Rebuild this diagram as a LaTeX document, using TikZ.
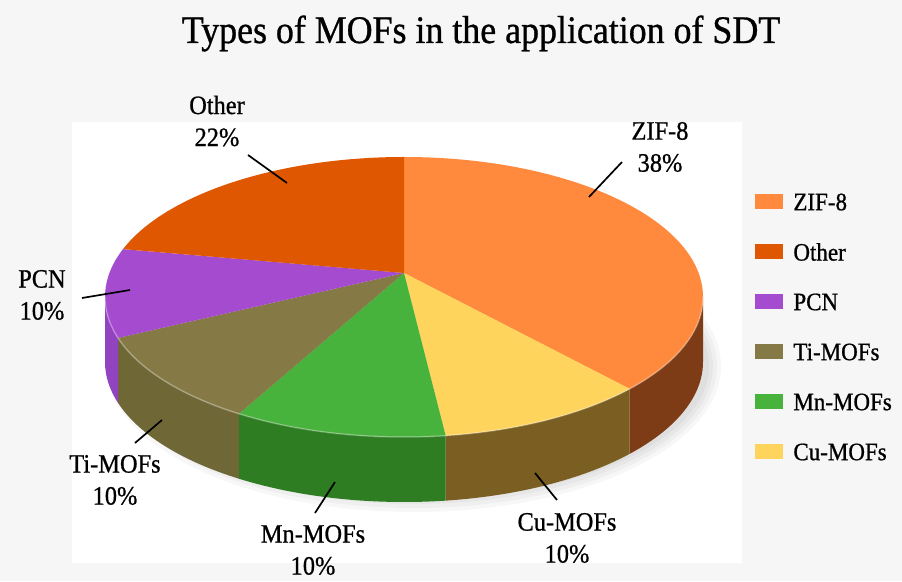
\documentclass[tikz,border=0pt]{standalone}
\usepackage{fontspec}
\setmainfont{Liberation Serif}[FakeStretch=0.92, FakeBold=0.8]
\usetikzlibrary{calc}

\definecolor{bggray}{HTML}{F6F6F6}
\definecolor{zifcol}{HTML}{FF8A3D}
\definecolor{zifside}{HTML}{7D3C15}
\definecolor{othcol}{HTML}{DF5700}
\definecolor{pcncol}{HTML}{A44BD0}
\definecolor{pcnside}{HTML}{9143C0}
\definecolor{ticol}{HTML}{857A45}
\definecolor{tiside}{HTML}{6F6736}
\definecolor{mncol}{HTML}{47B23C}
\definecolor{mnside}{HTML}{2F7D23}
\definecolor{cucol}{HTML}{FFD45C}
\definecolor{cuside}{HTML}{7A5E22}

\def\rx{299}
\def\ry{140}
\def\dep{65}

% top face of one slice: start angle, end angle, colour
\newcommand{\topslice}[3]{%
  \fill[#3] (apex) -- ($(ctr)+(#1:{\rx} and {\ry})$)
    arc[start angle=#1, end angle=#2, x radius=\rx, y radius=\ry] -- cycle;}
% front wall of one slice
\newcommand{\sideslice}[3]{%
  \fill[#3] ($(ctr)+(#1:{\rx} and {\ry})$)
    arc[start angle=#1, end angle=#2, x radius=\rx, y radius=\ry] -- ++(0,-\dep)
    arc[start angle=#2, end angle=#1, x radius=\rx, y radius=\ry] -- cycle;}

\tikzset{
  lbl/.style={align=center, inner sep=0pt, font=\fontsize{26.5}{32}\selectfont},
  legtxt/.style={inner sep=0pt, font=\fontsize{25}{30}\selectfont},
  legbox/.style={minimum width=28pt, minimum height=15pt, inner sep=0pt},
  leader/.style={line width=1.7pt, black},
}

\begin{document}
\begin{tikzpicture}[x=1pt,y=1pt]
                    \useasboundingbox (0,0) rectangle (902,581);
                    % Background and plot area
                    \fill[bggray] (0,0) rectangle (902,581);
                    \fill[white] (72,18) rectangle (742,459);

                    \coordinate (ctr) at (404,284);
                    \coordinate (apex) at (404,308);

                    % Title
                    \node (title) at (481,538) [anchor=base, inner sep=0pt] {\fontsize{39}{42}\selectfont Types of MOFs in the application of SDT};

                    % Soft shadow under the pie
                    \foreach \s in {0,4,8,12}
                      \fill[black, opacity=0.03] ($(ctr)+(10,-\dep-4)$) ellipse [x radius={\rx+8-\s}, y radius={\ry+6-\s}];

                    % Drawing the front walls
                    \sideslice{0}{-41}{zifside}
                    \sideslice{-41}{-82}{cuside}
                    \sideslice{-82}{-123.5}{mnside}
                    \sideslice{-123.5}{-163}{tiside}
                    \sideslice{-163}{-180}{pcnside}

                    % Drawing the top faces
                    \topslice{90}{-41}{zifcol}
                    \topslice{-41}{-82}{cucol}
                    \topslice{-82}{-123.5}{mncol}
                    \topslice{-123.5}{-163}{ticol}
                    \topslice{-163}{-200}{pcncol}
                    \topslice{160}{90}{othcol}

                    % Light rim along the front edge
                    \draw[white, opacity=0.3, line width=1.5pt] ($(ctr)+(0:{\rx} and {\ry})$)
                      arc[start angle=0, end angle=-180, x radius=\rx, y radius=\ry];

                    % Marking label ZIF-8
                    \node[lbl] (lzif) at (660,434) {ZIF-8\\38\%};
                    \coordinate (zifA) at (622,419);
                    \coordinate (zifB) at (589,384);
                    \draw[leader] (zifA) -- (zifB);

                    % Marking label Other
                    \node[lbl] (loth) at (217,460) {Other\\22\%};
                    \coordinate (othA) at (248,426);
                    \coordinate (othB) at (287,398);
                    \draw[leader] (othA) -- (othB);

                    % Marking label PCN
                    \node[lbl] (lpcn) at (42,286) {PCN\\10\%};
                    \coordinate (pcnA) at (82,283);
                    \coordinate (pcnB) at (130,291);
                    \draw[leader] (pcnA) -- (pcnB);

                    % Marking label Ti-MOFs
                    \node[lbl] (lti) at (115,101) {Ti-MOFs\\10\%};
                    \coordinate (tiA) at (135,138);
                    \coordinate (tiB) at (162,161);
                    \draw[leader] (tiA) -- (tiB);

                    % Marking label Mn-MOFs
                    \node[lbl] (lmn) at (313,31) {Mn-MOFs\\10\%};
                    \coordinate (mnA) at (315,68);
                    \coordinate (mnB) at (335,99);
                    \draw[leader] (mnA) -- (mnB);

                    % Marking label Cu-MOFs
                    \node[lbl] (lcu) at (567,43) {Cu-MOFs\\10\%};
                    \coordinate (cuA) at (557,81);
                    \coordinate (cuB) at (535,108);
                    \draw[leader] (cuA) -- (cuB);

                    % Legend
                    \foreach \lname/\lcol [count=\i] in {ZIF-8/zifcol, Other/othcol, PCN/pcncol, Ti-MOFs/ticol, Mn-MOFs/mncol, Cu-MOFs/cucol} {
                      \node[legbox, fill=\lcol] (leg\i) at (769,{379-(\i-1)*50}) {};
                      \node[legtxt, anchor=west] (legt\i) at ($(leg\i.east)+(10,0)$) {\lname};
                    }
\end{tikzpicture}
\end{document}
